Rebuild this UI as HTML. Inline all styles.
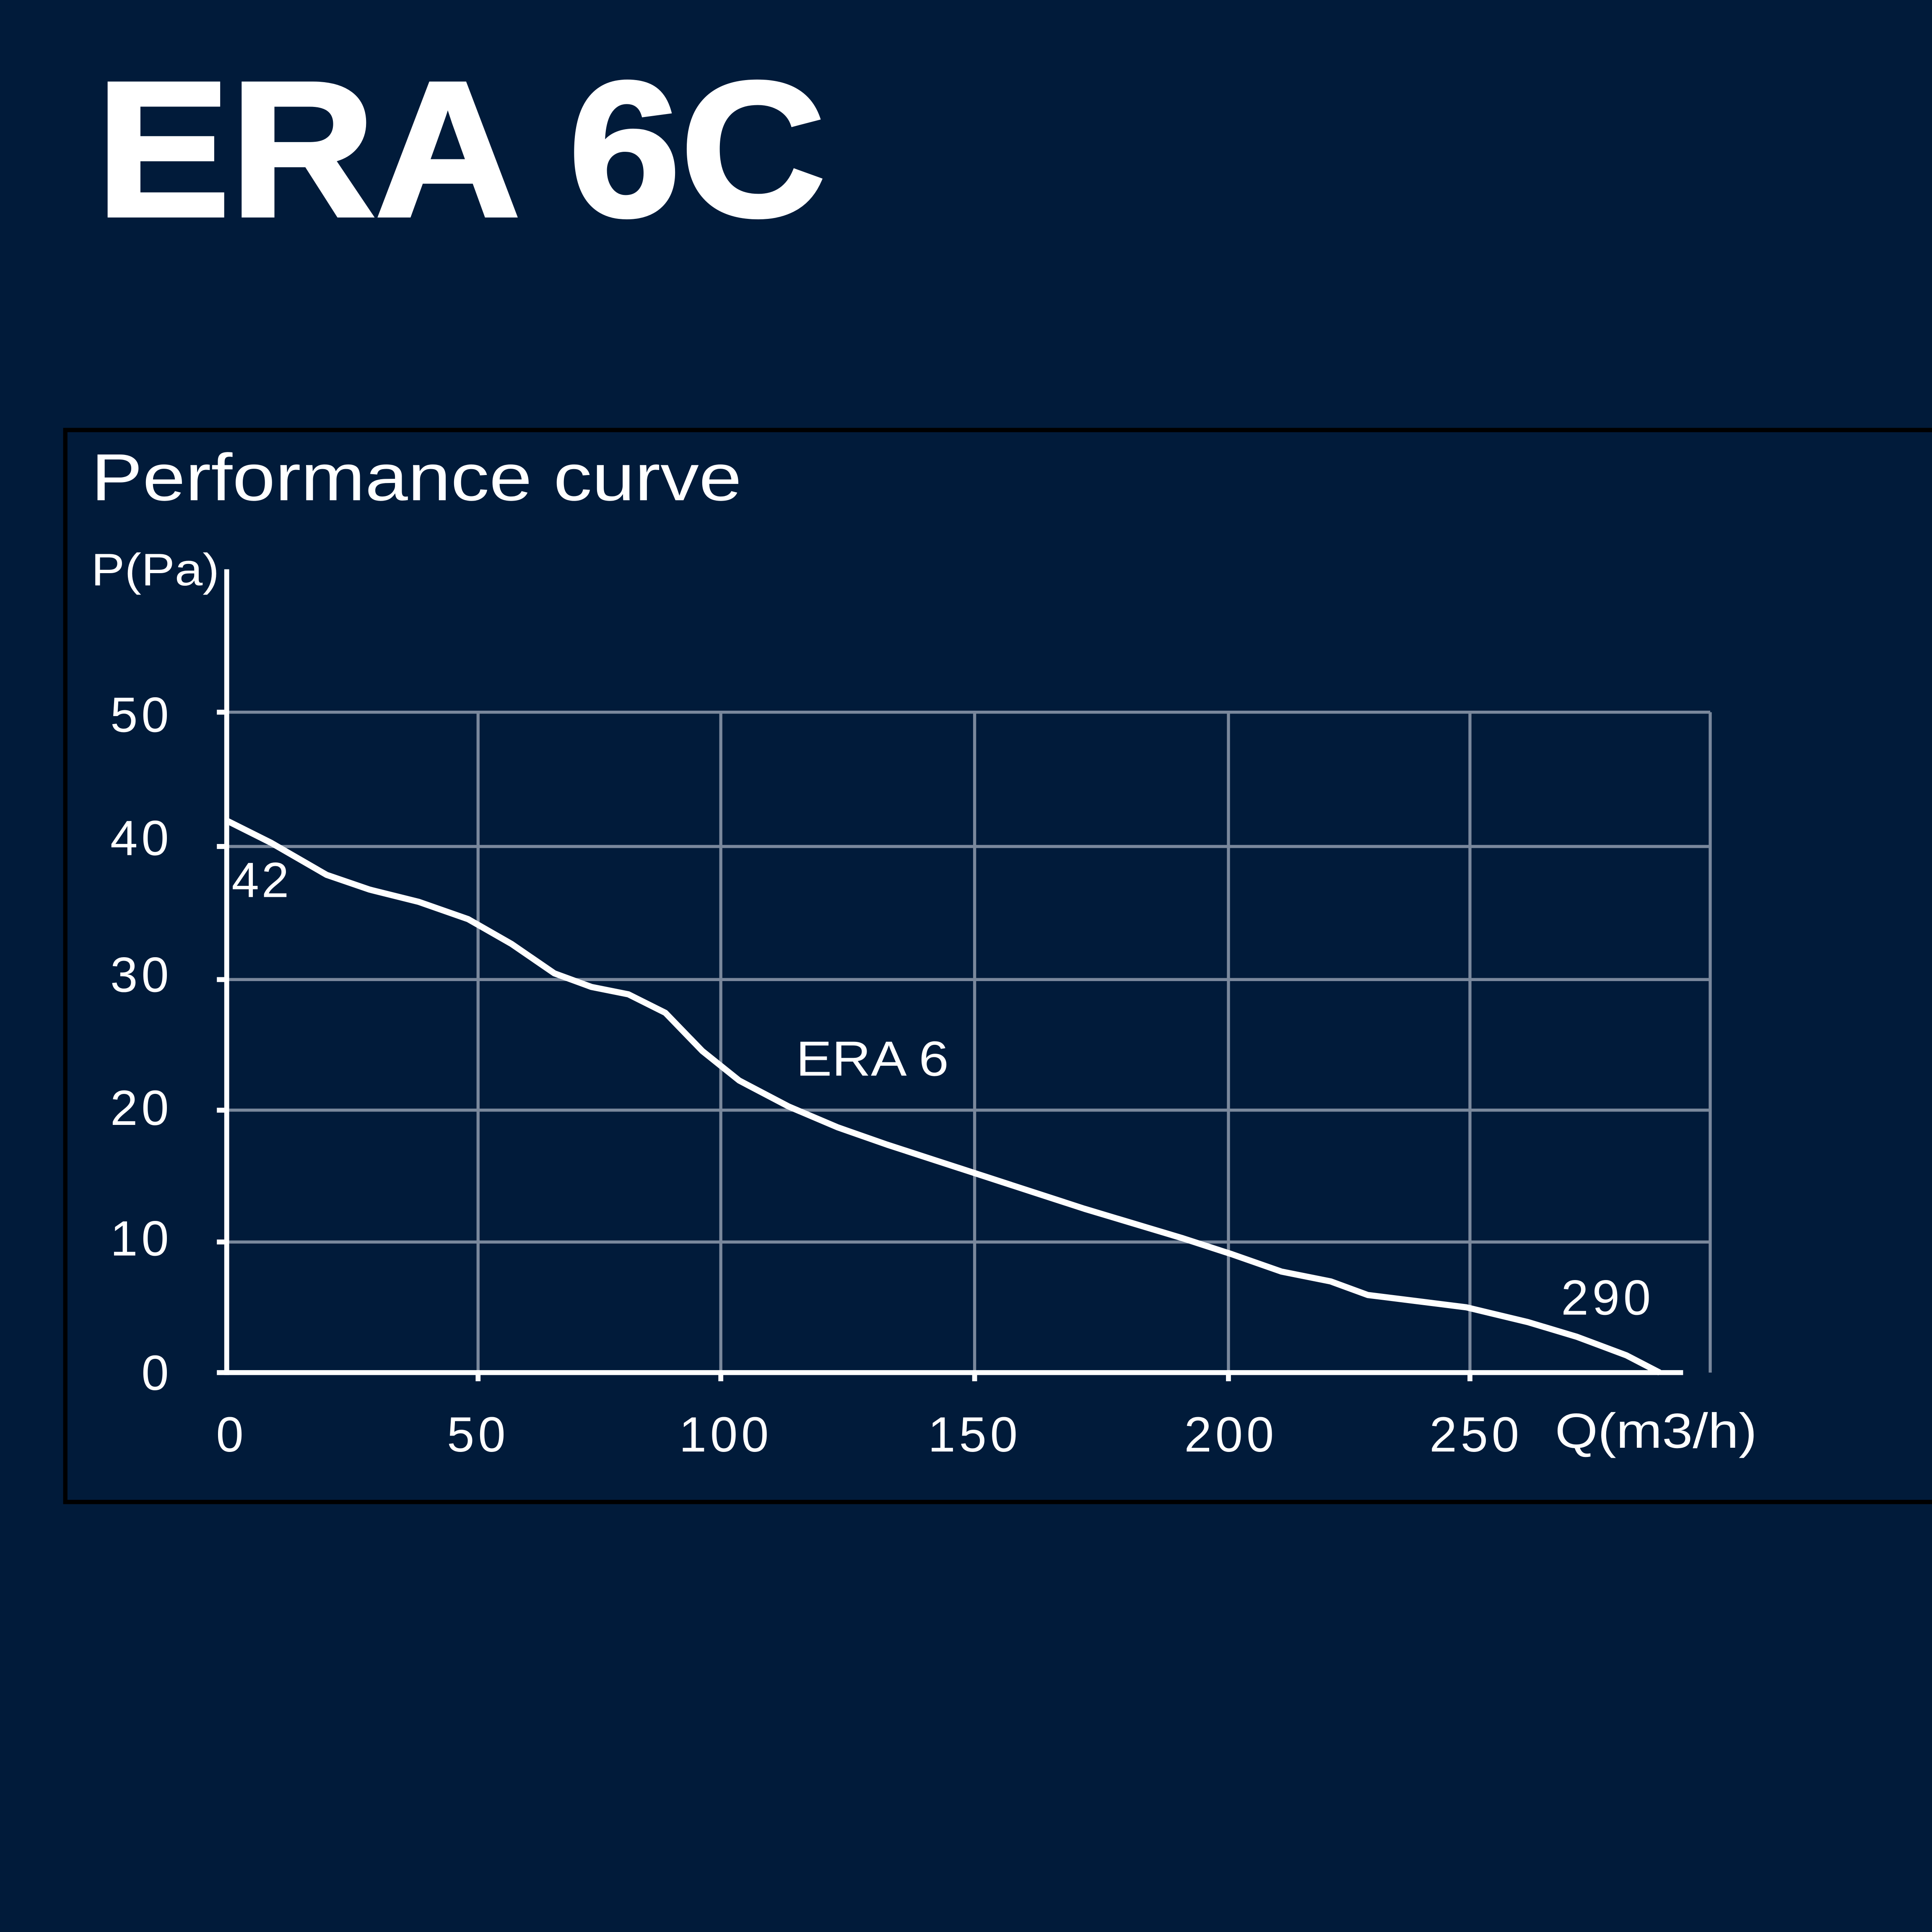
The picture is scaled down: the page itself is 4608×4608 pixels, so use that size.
<!DOCTYPE html>
<html><head><meta charset="utf-8"><style>
html,body{margin:0;padding:0;background:#011b3a;}
svg{display:block;}
</style></head><body>
<svg width="4608" height="4608" viewBox="0 0 1568 1568" xmlns="http://www.w3.org/2000/svg">
<rect width="1568" height="1568" fill="#011b3a"/>
<text x="78" y="175" font-family="Liberation Sans, sans-serif" font-weight="bold" font-size="156" fill="#fff" stroke="#fff" stroke-width="3" textLength="592" lengthAdjust="spacingAndGlyphs">ERA 6C</text>
<rect x="53" y="349" width="1530" height="870" fill="#011b3a" stroke="#000" stroke-width="3.5"/>
<text x="74" y="406" font-family="Liberation Sans, sans-serif" font-size="54" fill="#fff" textLength="528" lengthAdjust="spacingAndGlyphs">Performance curve</text>
<text x="74" y="475" font-family="Liberation Sans, sans-serif" font-size="37" fill="#fff" textLength="104" lengthAdjust="spacingAndGlyphs">P(Pa)</text>
<g stroke="#7a889c" stroke-width="2.5" fill="none">
<line x1="184" y1="578" x2="1388" y2="578"/>
<line x1="184" y1="687" x2="1388" y2="687"/>
<line x1="184" y1="795" x2="1388" y2="795"/>
<line x1="184" y1="901" x2="1388" y2="901"/>
<line x1="184" y1="1008" x2="1388" y2="1008"/>
<line x1="388" y1="578" x2="388" y2="1114"/>
<line x1="585" y1="578" x2="585" y2="1114"/>
<line x1="791" y1="578" x2="791" y2="1114"/>
<line x1="997" y1="578" x2="997" y2="1114"/>
<line x1="1193" y1="578" x2="1193" y2="1114"/>
<line x1="1388" y1="578" x2="1388" y2="1114"/>
</g>
<g stroke="#fff" stroke-width="4" fill="none">
<line x1="184" y1="462" x2="184" y2="1116"/>
<line x1="176" y1="1114" x2="1366" y2="1114"/>
<line x1="176" y1="578" x2="184" y2="578"/>
<line x1="176" y1="687" x2="184" y2="687"/>
<line x1="176" y1="795" x2="184" y2="795"/>
<line x1="176" y1="901" x2="184" y2="901"/>
<line x1="176" y1="1008" x2="184" y2="1008"/>
<line x1="388" y1="1114" x2="388" y2="1121"/>
<line x1="585" y1="1114" x2="585" y2="1121"/>
<line x1="791" y1="1114" x2="791" y2="1121"/>
<line x1="997" y1="1114" x2="997" y2="1121"/>
<line x1="1193" y1="1114" x2="1193" y2="1121"/>
<path stroke-width="5" d="M184,666 L220,684 L265,710 L300,722 L340,732 L380,746 L415,766 L450,790 L480,801 L510,807 L540,822 L570,853 L600,877 L640,898 L680,915 L720,929 L760,942 L800,955 L840,968 L880,981 L920,993 L960,1005 L1000,1018 L1040,1032 L1080,1040 L1110,1051 L1150,1056 L1190,1061 L1240,1073 L1280,1085 L1320,1100 L1347,1114" stroke-linejoin="round"/>
</g>
<g font-family="Liberation Sans, sans-serif" font-size="40" fill="#fff" text-anchor="end" letter-spacing="3">
<text x="140" y="594">50</text>
<text x="140" y="694">40</text>
<text x="140" y="805">30</text>
<text x="140" y="913">20</text>
<text x="140" y="1019">10</text>
<text x="140" y="1128">0</text>
</g>
<g font-family="Liberation Sans, sans-serif" font-size="40" fill="#fff" text-anchor="middle" letter-spacing="3">
<text x="188" y="1178">0</text>
<text x="388" y="1178">50</text>
<text x="589" y="1178">100</text>
<text x="791" y="1178">150</text>
<text x="999" y="1178">200</text>
<text x="1198" y="1178">250</text>
</g>
<text x="1262" y="1175" font-family="Liberation Sans, sans-serif" font-size="40" fill="#fff" textLength="164" lengthAdjust="spacingAndGlyphs">Q(m3/h)</text>
<text x="188" y="728" font-family="Liberation Sans, sans-serif" font-size="40" fill="#fff" letter-spacing="2">42</text>
<text x="646" y="873" font-family="Liberation Sans, sans-serif" font-size="40" fill="#fff" textLength="124" lengthAdjust="spacingAndGlyphs">ERA 6</text>
<text x="1267" y="1067" font-family="Liberation Sans, sans-serif" font-size="40" fill="#fff" letter-spacing="3">290</text>
</svg>
</body></html>
